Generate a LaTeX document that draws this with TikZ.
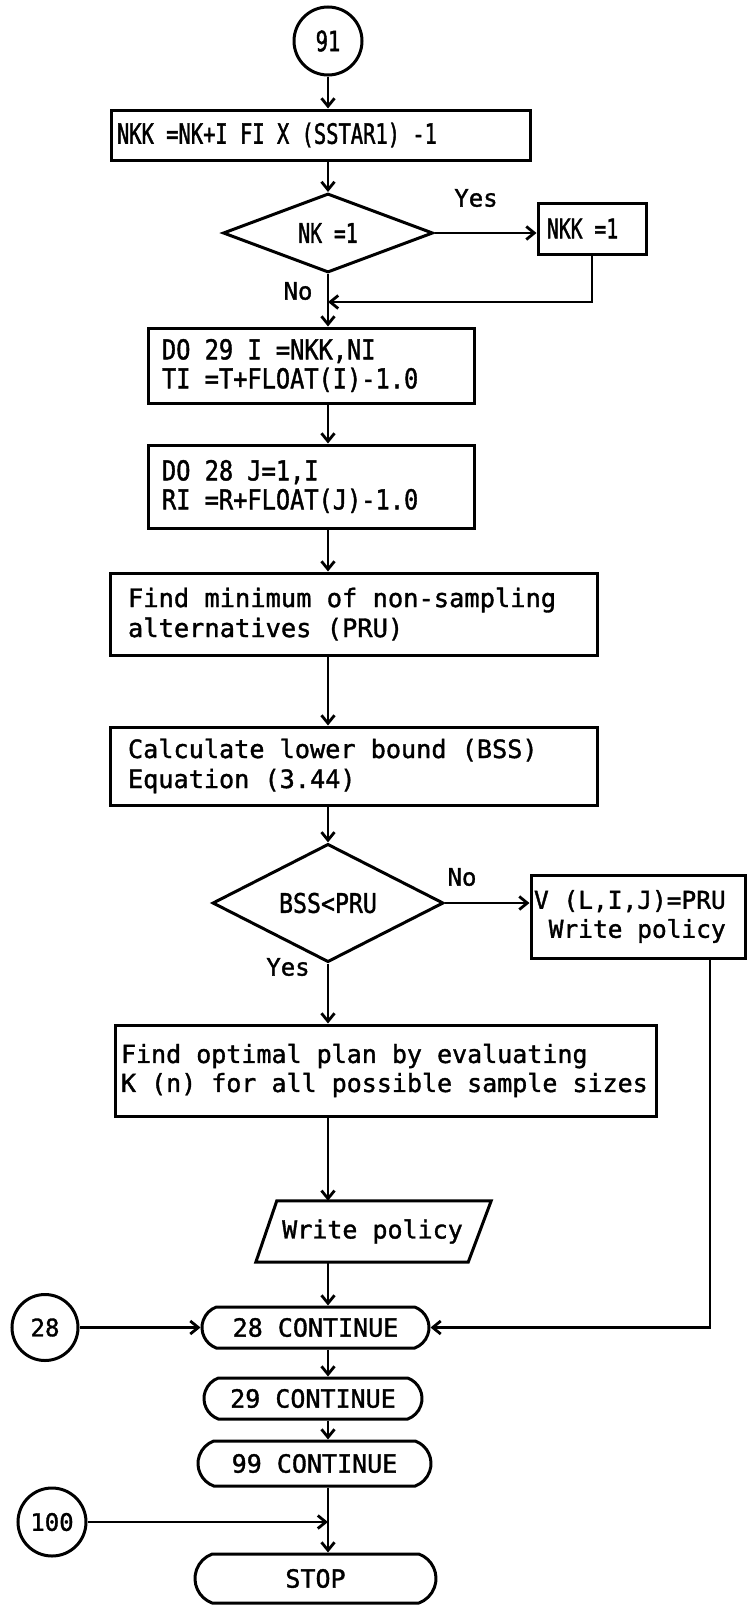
\documentclass[tikz,border=0pt]{standalone}
\usepackage{fontspec}
\newfontfamily\mono[FakeBold=1.4]{DejaVu Sans Mono}
\newfontfamily\monoA[FakeStretch=0.73,FakeBold=1.4]{DejaVu Sans Mono}
\newfontfamily\monoB[FakeStretch=0.86,FakeBold=1.4]{DejaVu Sans Mono}
% every space as wide as one character cell
\newcommand\cellsp{\spaceskip=\fontcharwd\font`\M\relax\xspaceskip=\spaceskip}
\usetikzlibrary{shapes.geometric, shapes.misc, arrows.meta}

\tikzset{
  base/.style={draw, line width=3pt},
  box/.style={base, rectangle, align=left, inner ysep=0pt,
    font={\mono\fontsize{25}{29}\selectfont}, execute at begin node=\cellsp},
  codebox/.style={box, font={\monoB\fontsize{27.5}{29}\selectfont}},
  decision/.style={base, diamond, inner sep=0pt, execute at begin node=\cellsp},
  connector/.style={base, circle, inner sep=0pt, font={\mono\fontsize{24}{28}\selectfont}},
  terminal/.style={base, rounded rectangle, rounded rectangle arc length=140,
    inner sep=0pt, font={\mono\fontsize{25}{29}\selectfont}, execute at begin node=\cellsp},
  lbl/.style={inner sep=0pt, font={\mono\fontsize{24}{28}\selectfont}},
  arr/.style={line width=2.8pt, -{Straight Barb[length=8pt,width=13pt]}}
}

\begin{document}
\begin{tikzpicture}[x=1pt, y=-1pt]
\useasboundingbox (0,0) rectangle (747,1609);

% entry connector and first assignment
\node[connector, minimum size=68pt, font={\monoA\fontsize{28}{30}\selectfont}] (c91) at (328,41) {91};
\node[box, font={\monoA\fontsize{28}{30}\selectfont}, text width=407pt, inner xsep=6pt,
  minimum height=50pt] (nkk) at (320.5,135) {NKK =NK+I FI X (SSTAR1) -1};

% first test
\node[decision, minimum width=210pt, minimum height=68pt,
  font={\monoA\fontsize{27}{28}\selectfont}] (dia1) at (328,233) {NK =1};
\node[box, font={\monoA\fontsize{27}{29}\selectfont}, text width=90pt, inner xsep=9pt,
  minimum height=51pt] (nkk1) at (592,228.5) {NKK =1};
\coordinate (jn1) at (328,302);

% loops
\node[codebox, text width=298pt, inner xsep=14pt, minimum height=75pt] (do29) at (311,365.5)
  {DO 29 I =NKK,NI\\TI =T+FLOAT(I)-1.0};
\node[codebox, text width=298pt, inner xsep=14pt, minimum height=83pt] (do28) at (311,486.5)
  {DO 28 J=1,I\\RI =R+FLOAT(J)-1.0};

% evaluation steps
\node[box, font={\mono\fontsize{25.4}{30}\selectfont}, text width=451pt, inner xsep=18pt,
  minimum height=82pt] (findmin) at (353.5,614)
  {Find minimum of non-sampling\\alternatives (PRU)};
\node[box, font={\mono\fontsize{25.2}{30}\selectfont}, text width=451pt, inner xsep=18pt,
  minimum height=78pt] (calc) at (353.5,766)
  {Calculate lower bound (BSS)\\Equation (3.44)};

% second test
\node[decision, minimum width=231pt, minimum height=87pt,
  font={\monoB\fontsize{27}{29}\selectfont}] (dia2) at (328,903) {BSS<PRU};
\node[box, font={\mono\fontsize{24.5}{29}\selectfont}, text width=208pt, inner xsep=3pt,
  minimum height=83pt] (vbox) at (638,916.5)
  {V (L,I,J)=PRU\\~Write policy};
\node[box, text width=529pt, inner xsep=6pt, minimum height=91pt] (findopt) at (385.5,1070.5)
  {Find optimal plan by evaluating\\K (n) for all possible sample sizes};

% output
\node[inner sep=0pt, minimum width=212pt, minimum height=61pt,
  font={\mono\fontsize{25}{29}\selectfont}, execute at begin node=\cellsp] (par) at (372.5,1231.5) {Write policy};
\draw[base] ([xshift=10.5pt]par.north west) -- ([xshift=12.5pt]par.north east)
  -- ([xshift=-10.5pt]par.south east) -- ([xshift=-10.5pt]par.south west) -- cycle;

% loop ends
\node[terminal, minimum width=227pt, minimum height=41pt] (cont28) at (315.5,1327.5) {28 CONTINUE};
\node[terminal, minimum width=218pt, minimum height=41pt] (cont29) at (313,1398.5) {29 CONTINUE};
\node[terminal, minimum width=233pt, minimum height=45pt] (cont99) at (314.5,1463.5) {99 CONTINUE};
\node[terminal, minimum width=241pt, minimum height=49pt] (stop) at (315.5,1578.5) {STOP};

\node[connector, minimum size=66pt] (c28) at (45,1327.5) {28};
\node[connector, minimum size=68pt] (c100) at (52,1522) {100};
\coordinate (rc) at (710,0);

% branch labels
\node[lbl] (yes1) at (476,198) {Yes};
\node[lbl] (no1) at (298,291) {No};
\node[lbl] (no2) at (462,877) {No};
\node[lbl] (yes2) at (288,967) {Yes};

% flow lines
\draw[arr] (c91) -- (nkk.north -| c91);
\draw[arr] (nkk.south -| c91) -- (dia1.north);
\draw[arr] (dia1.east) -- (dia1.east -| nkk1.west);
\draw[arr] (nkk1.south) |- (jn1);
\draw[arr] (dia1.south) -- (do29.north -| dia1.south);
\draw[arr] (do29.south -| c91) -- (do28.north -| c91);
\draw[arr] (do28.south -| c91) -- (findmin.north -| c91);
\draw[arr] (findmin.south -| c91) -- (calc.north -| c91);
\draw[arr] (calc.south -| c91) -- (dia2.north);
\draw[arr] (dia2.east) -- (dia2.east -| vbox.west);
\draw[arr] (dia2.south) -- (findopt.north -| dia2.south);
\draw[arr] (findopt.south -| c91) -- (par.north -| c91);
\draw[arr] (par.south -| c91) -- (cont28.north -| c91);
\draw[arr] (vbox.south -| rc) |- (cont28.east);
\draw[arr] (c28) -- (cont28);
\draw[arr] (cont28.south -| c91) -- (cont29.north -| c91);
\draw[arr] (cont29.south -| c91) -- (cont99.north -| c91);
\draw[arr] (cont99.south -| c91) -- (stop.north -| c91);
\draw[arr] (c100) -- (c100 -| c91);
\end{tikzpicture}
\end{document}
